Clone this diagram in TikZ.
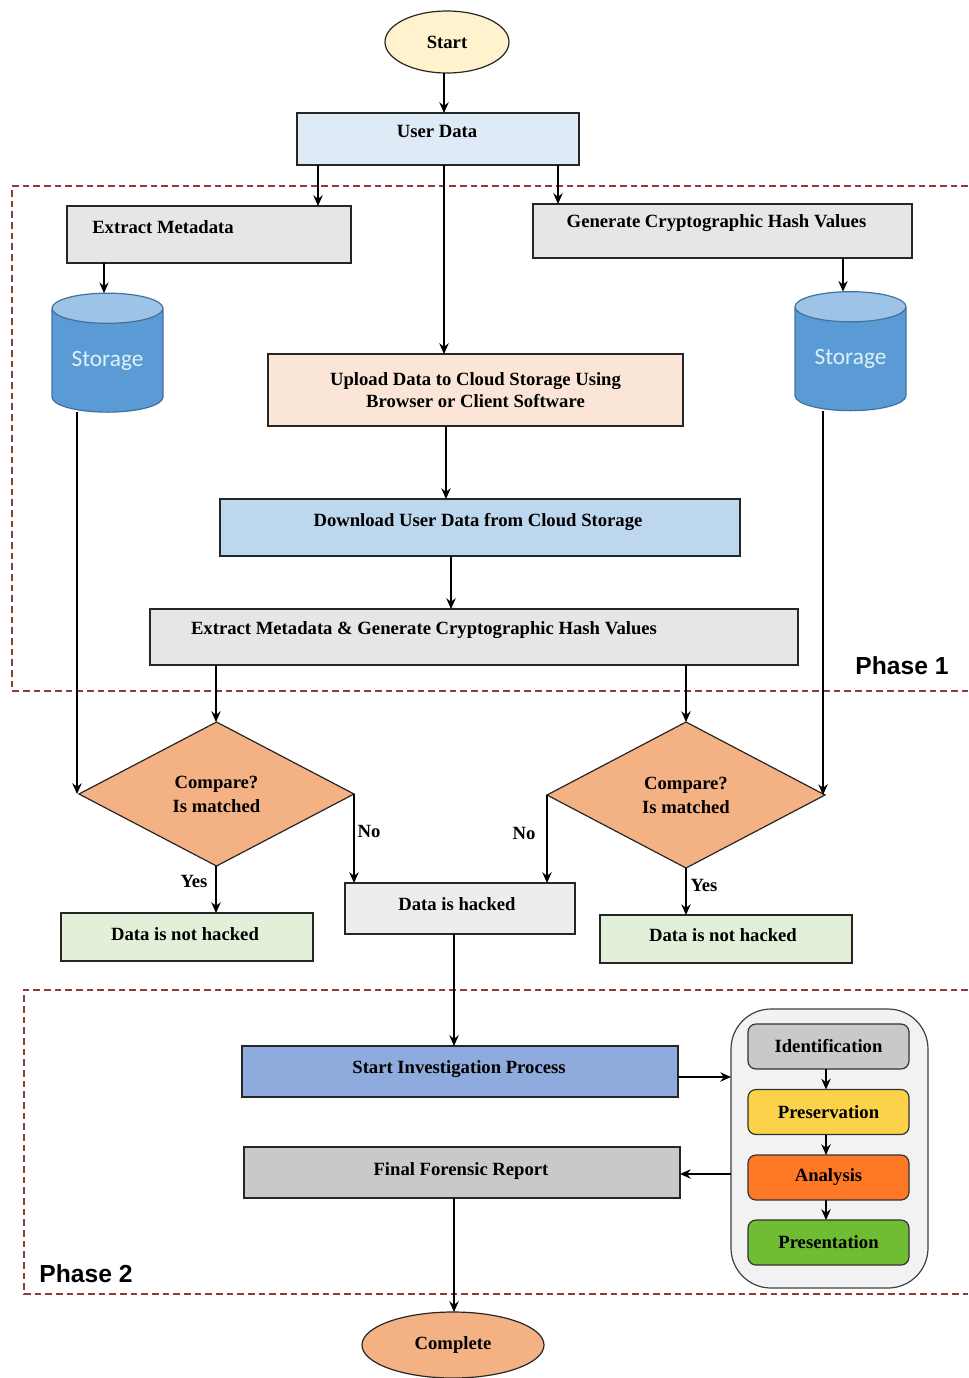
\documentclass[tikz,border=0pt]{standalone}
\usepackage{fontspec}
\setmainfont{Liberation Serif}
\newfontfamily\storagefont{Carlito}
\newfontfamily\phasefont{Liberation Sans}
\usetikzlibrary{arrows.meta, shapes.geometric}
\definecolor{frameRed}{HTML}{8E3B3B}
\newcommand{\shifttext}[3]{\hspace*{\dimexpr 1.5pt*#1\relax}\raisebox{\dimexpr 0.75pt*#2-3.4pt\relax}[0pt][0pt]{#3}}
\tikzset{
  sized/.style 2 args = {minimum width=#1*0.75pt, minimum height=#2*0.75pt},
  block/.style = {rectangle, draw=black!85, line width=0.9pt, inner sep=0pt, outer sep=0pt, font=\fontsize{14}{16}\selectfont\bfseries, align=center},
  oval/.style = {ellipse, draw=black!85, line width=0.9pt, inner sep=0pt, outer sep=0pt, font=\fontsize{14}{16}\selectfont\bfseries},
  decision/.style = {diamond, draw=black!85, line width=0.9pt, inner sep=0pt, outer sep=0pt, fill=compareFill, font=\fontsize{14}{18}\selectfont\bfseries, align=center, sized={275}{144}},
  storage/.style = {cylinder, shape border rotate=90, aspect=0.42, draw=storageEdge, line width=0.9pt, inner sep=0pt, outer sep=0pt, cylinder uses custom fill, cylinder body fill=storageBody, cylinder end fill=storageTop, text=storageText, font=\storagefont\fontsize{17.5}{20}\selectfont, sized={111}{119}},
  stepbox/.style = {rectangle, rounded corners=6pt, draw=black!80, line width=0.9pt, inner sep=0pt, outer sep=0pt, font=\fontsize{14}{16}\selectfont\bfseries, sized={161}{45}},
  arrow/.style = {line width=1.1pt, -{Stealth[length=8pt, width=7pt]}},
  phase/.style = {dashed, dash pattern=on 5pt off 3pt, line width=0.8pt, draw=frameRed},
  phaselabel/.style = {font=\phasefont\fontsize{18.5}{20}\selectfont\bfseries},
  branch/.style = {font=\fontsize{14}{16}\selectfont\bfseries, inner sep=0pt}
}
\definecolor{startFill}{HTML}{FFF2CC}
\definecolor{userFill}{HTML}{DEEBF7}
\definecolor{greyFill}{HTML}{E7E6E6}
\definecolor{uploadFill}{HTML}{FBE5D6}
\definecolor{downloadFill}{HTML}{BDD7EE}
\definecolor{compareFill}{HTML}{F4B183}
\definecolor{safeFill}{HTML}{E2F0D9}
\definecolor{hackedFill}{HTML}{EDEDED}
\definecolor{investFill}{HTML}{8FAADC}
\definecolor{reportFill}{HTML}{C9C9C9}
\definecolor{storageEdge}{HTML}{41719C}
\definecolor{storageBody}{HTML}{5B9BD5}
\definecolor{storageTop}{HTML}{9DC3E6}
\definecolor{storageText}{HTML}{DDF1F7}

\begin{document}
\begin{tikzpicture}[x=0.75pt, y=-0.75pt]
  \useasboundingbox (0,0) rectangle (968,1378);

  % Phase frames
  \draw[phase] (968,186) -- (12,186) -- (12,691) -- (968,691);
  \draw[phase] (968,990) -- (24,990) -- (24,1294) -- (968,1294);
  \node[phaselabel] (phaseone) at (902,666) {Phase 1};
  \node[phaselabel] (phasetwo) at (86,1274) {Phase 2};

  % Phase 1 chain
  \node[oval, fill=startFill, sized={124}{62}] (start) at (447,42) {Start};
  \node[block, fill=userFill, sized={282}{52}] (user) at (438,139) {\shifttext{-1}{6}{User Data}};
  \node[block, fill=greyFill, sized={284}{57}] (extract) at (209,234.5) {\shifttext{-46}{6}{Extract Metadata}};
  \node[block, fill=greyFill, sized={379}{54}] (generate) at (722.5,231) {\shifttext{-6}{8}{Generate Cryptographic Hash Values}};
  \node[storage] (storeleft) at (107.5,360.5) {Storage};
  \node[storage] (storeright) at (850.5,359) {Storage};
  \node[block, fill=uploadFill, sized={415}{72}] (upload) at (475.5,390) {Upload Data to Cloud Storage Using\\Browser or Client Software};
  \node[block, fill=downloadFill, sized={520}{57}] (download) at (480,527.5) {\shifttext{-2}{6}{Download User Data from Cloud Storage}};
  \node[block, fill=greyFill, sized={648}{56}] (extractgen) at (474,637) {\shifttext{-50}{7}{Extract Metadata \& Generate Cryptographic Hash Values}};

  % Comparison
  \node[decision] (compareleft) at (216.5,794) {Compare?\\Is matched};
  \node[decision, sized={278}{146}] (compareright) at (686,795) {Compare?\\Is matched};
  \node[block, fill=safeFill, sized={252}{48}] (safeleft) at (187,937) {\shifttext{-2}{1}{Data is not hacked}};
  \node[block, fill=safeFill, sized={252}{48}] (saferight) at (726,939) {\shifttext{-3}{2}{Data is not hacked}};
  \node[block, fill=hackedFill, sized={230}{51}] (hacked) at (460,908.5) {\shifttext{-3}{3}{Data is hacked}};

  % Phase 2
  \node[block, fill=investFill, sized={436}{51}] (invest) at (460,1071.5) {\shifttext{-1}{3}{Start Investigation Process}};
  \node[block, fill=reportFill, sized={436}{51}] (report) at (462,1172.5) {\shifttext{-1}{2}{Final Forensic Report}};
  \node[rectangle, rounded corners=30pt, draw=black!75, line width=0.9pt, fill=black!5, outer sep=0pt, sized={197}{279}] (process) at (829.5,1148.5) {};
  \node[stepbox, fill=reportFill] (identify) at (828.5,1046.5) {Identification};
  \node[stepbox, fill=yellow!55!orange!70!white] (preserve) at (828.5,1112) {Preservation};
  \node[stepbox, fill=orange!75!red!85!white] (analyse) at (828.5,1177.5) {Analysis};
  \node[stepbox, fill=green!45!black!60!lime!80!white] (present) at (828.5,1242.5) {Presentation};
  \node[oval, fill=compareFill, sized={182}{66}] (complete) at (453,1345) {Complete};

  % Branch labels
  \node[branch] (noleft) at (369,831) {No};
  \node[branch] (noright) at (524,833) {No};
  \node[branch] (yesleft) at (194,881) {Yes};
  \node[branch] (yesright) at (704,885) {Yes};

  % Columns and rows of the connectors
  \coordinate (colstart) at (444,0);
  \coordinate (colextract) at (318,0);
  \coordinate (colgenerate) at (558,0);
  \coordinate (colstoreleft) at (104,0);
  \coordinate (colstoreright) at (843,0);
  \coordinate (colupload) at (446,0);
  \coordinate (coldownload) at (451,0);
  \coordinate (colleft) at (216,0);
  \coordinate (colright) at (686,0);
  \coordinate (coldownleft) at (77,0);
  \coordinate (coldownright) at (823,0);
  \coordinate (colhacked) at (454,0);
  \coordinate (colstep) at (826,0);
  \coordinate (rowinvest) at (0,1077);
  \coordinate (rowreport) at (0,1174);

  % Connections Phase 1
  \draw[arrow] (start.south -| colstart) -- (user.north -| colstart);
  \draw[arrow] (user.south -| colextract) -- (extract.north -| colextract);
  \draw[arrow] (user.south -| colgenerate) -- (generate.north -| colgenerate);
  \draw[arrow] (user.south -| colstart) -- (upload.north -| colstart);
  \draw[arrow] (extract.south -| colstoreleft) -- (storeleft.north -| colstoreleft);
  \draw[arrow] (generate.south -| colstoreright) -- (storeright.north -| colstoreright);
  \draw[arrow] (upload.south -| colupload) -- (download.north -| colupload);
  \draw[arrow] (download.south -| coldownload) -- (extractgen.north -| coldownload);
  \draw[arrow] (extractgen.south -| colleft) -- (compareleft.north -| colleft);
  \draw[arrow] (extractgen.south -| colright) -- (compareright.north -| colright);

  % Connections comparison
  \draw[arrow] (storeleft.south -| coldownleft) -- (compareleft.west -| coldownleft);
  \draw[arrow] (storeright.south -| coldownright) -- (compareright.east -| coldownright);
  \draw[arrow] (compareleft.south -| colleft) -- (safeleft.north -| colleft);
  \draw[arrow] (compareright.south -| colright) -- (saferight.north -| colright);
  \draw[arrow] (compareleft.east) -- (compareleft.east |- hacked.north);
  \draw[arrow] (compareright.west) -- (compareright.west |- hacked.north);
  \draw[arrow] (hacked.south -| colhacked) -- (invest.north -| colhacked);

  % Connections Phase 2
  \draw[arrow] (invest.east |- rowinvest) -- (process.west |- rowinvest);
  \draw[arrow] (process.west |- rowreport) -- (report.east |- rowreport);
  \draw[arrow] (report.south -| colhacked) -- (complete.north -| colhacked);
  \draw[arrow] (identify.south -| colstep) -- (preserve.north -| colstep);
  \draw[arrow] (preserve.south -| colstep) -- (analyse.north -| colstep);
  \draw[arrow] (analyse.south -| colstep) -- (present.north -| colstep);
\end{tikzpicture}
\end{document}
